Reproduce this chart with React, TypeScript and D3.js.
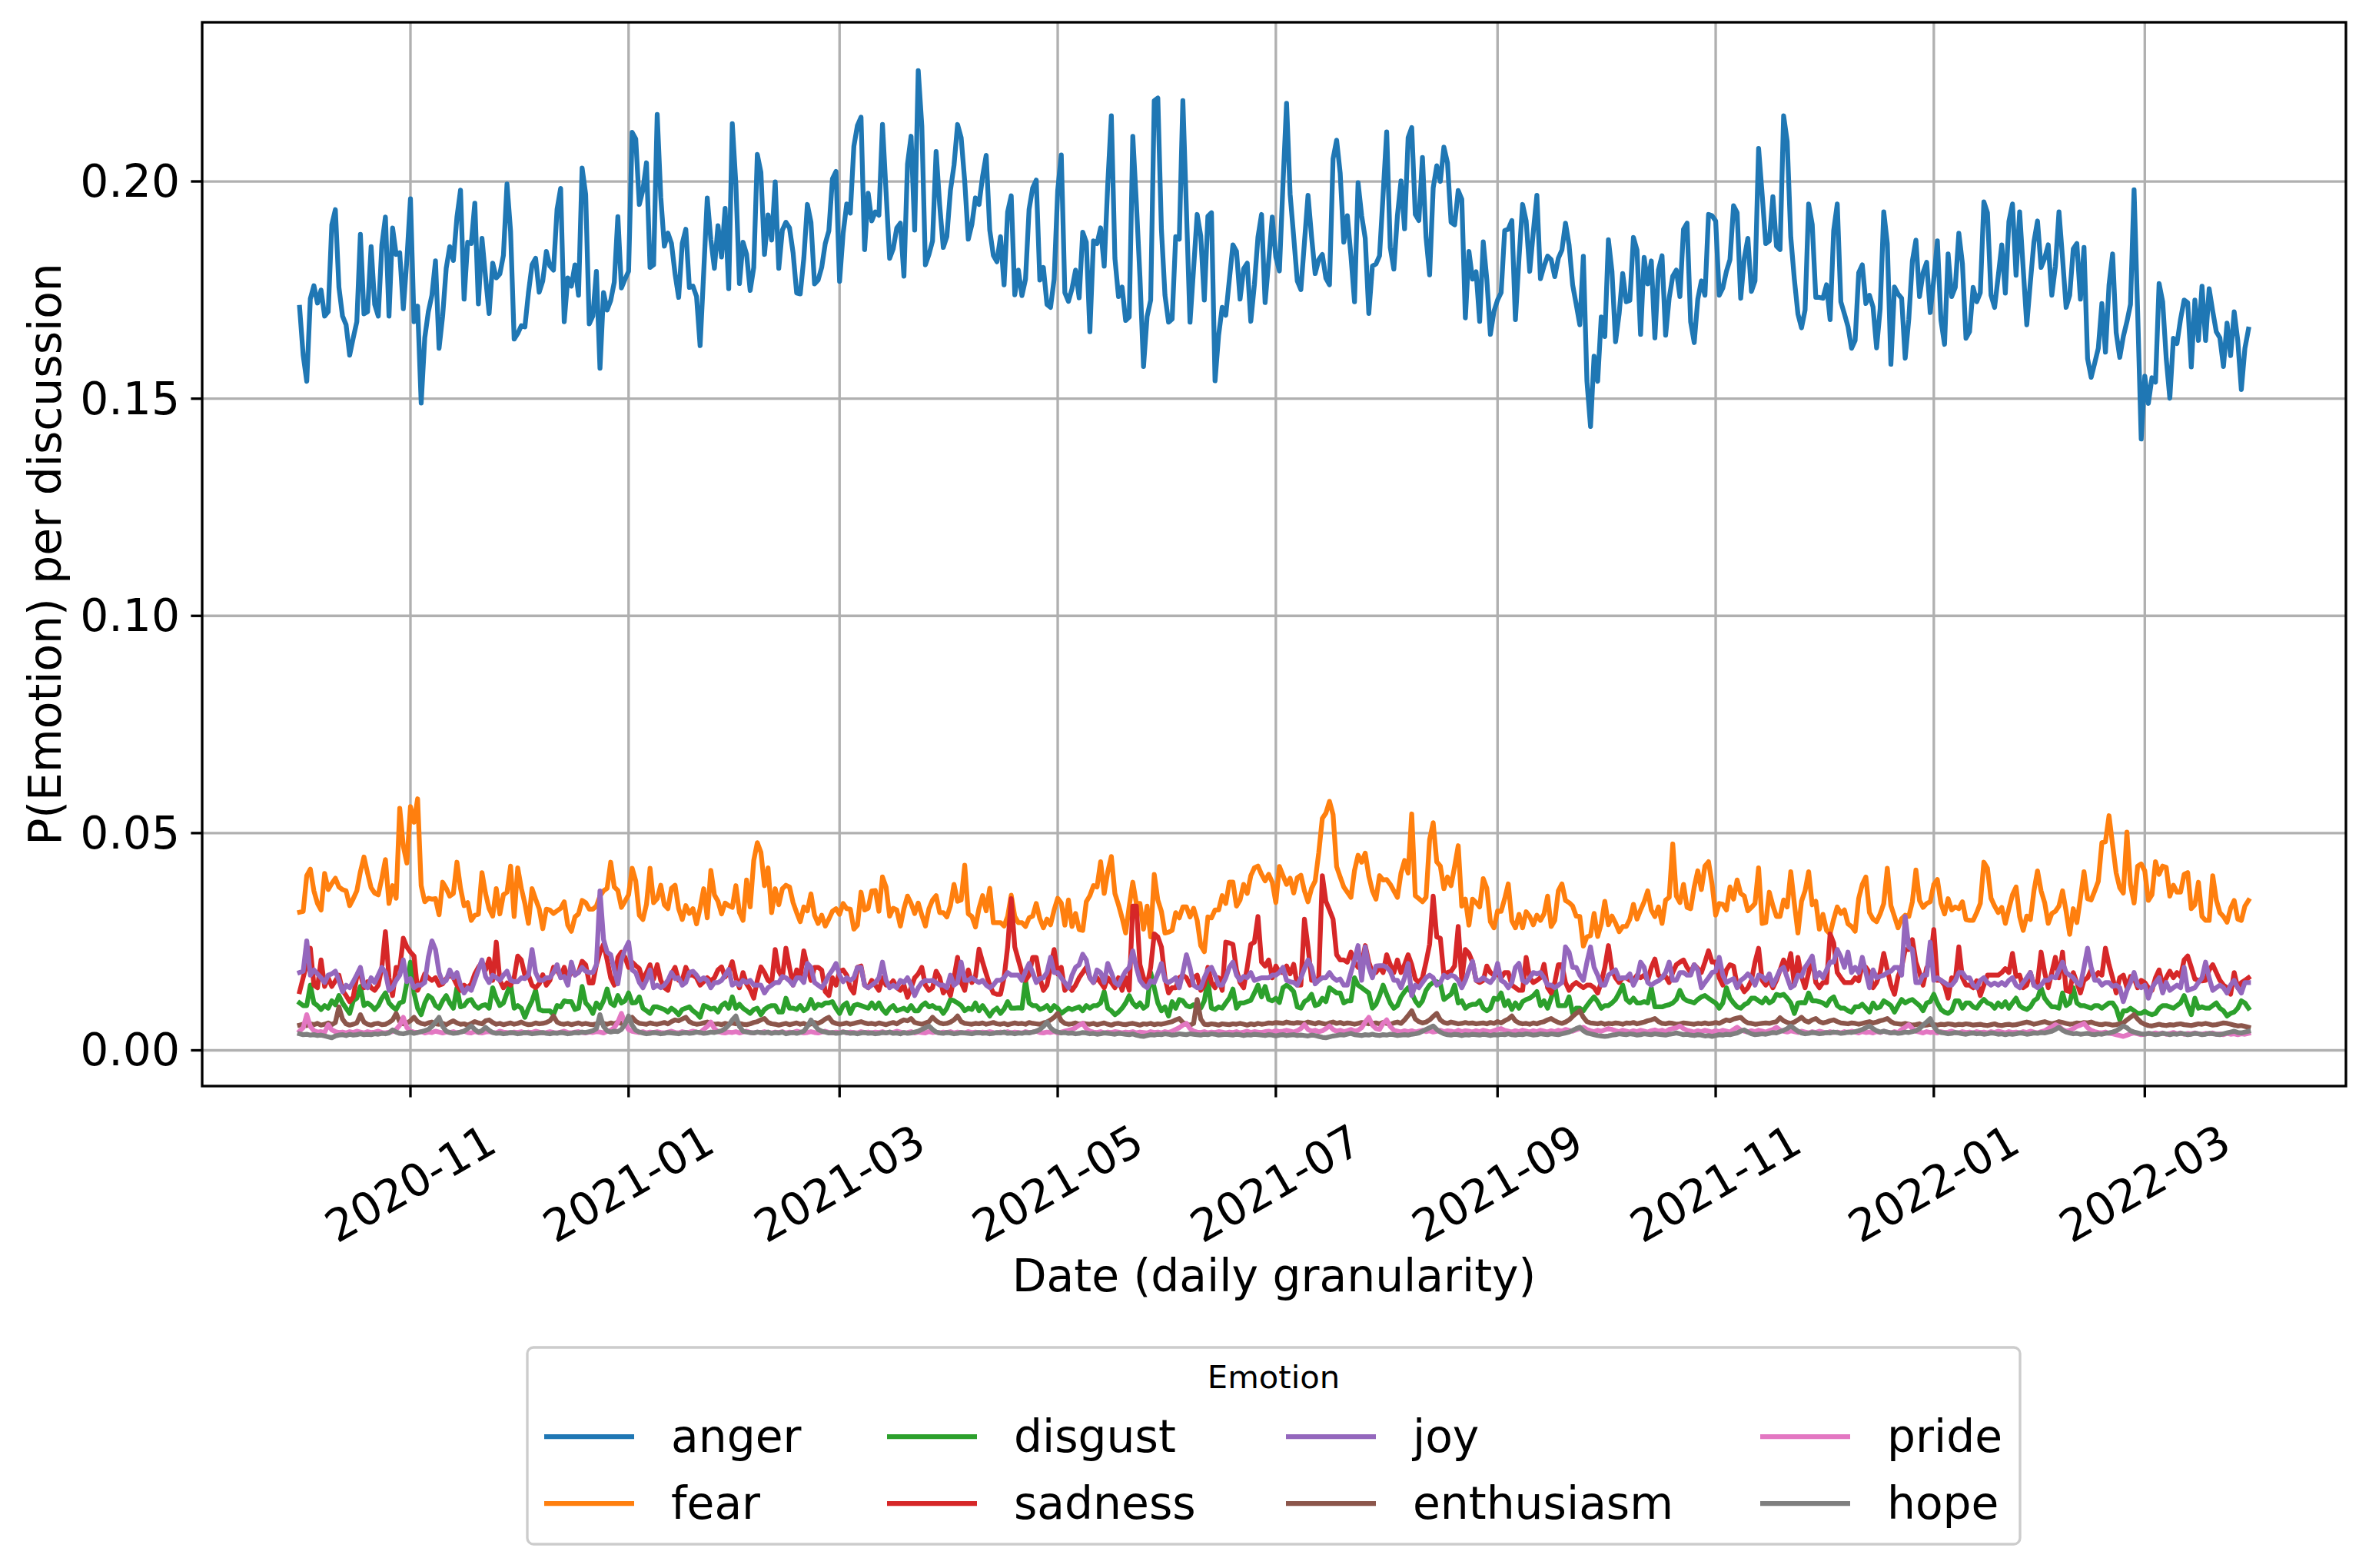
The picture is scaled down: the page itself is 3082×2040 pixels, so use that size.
import * as d3 from 'd3';

// Daily P(emotion) per discussion, in units of 1e-4, one value per day from 2020-10-01
const anger = [
  1710,1600,1540,1730,1760,1720,1750,1690,1700,1900,
  1935,1756,1690,1670,1600,1640,1677,1878,1695,1700,
  1850,1717,1690,1854,1918,1690,1893,1832,1836,1707,
  1820,1960,1677,1713,1490,1640,1700,1738,1817,1616,
  1690,1800,1850,1818,1918,1980,1729,1860,1857,1950,
  1718,1869,1780,1696,1812,1778,1787,1830,1994,1885,
  1637,1650,1668,1665,1744,1808,1823,1745,1771,1839,
  1805,1796,1936,1984,1677,1778,1759,1808,1738,2031,
  1970,1672,1690,1793,1570,1744,1704,1726,1768,1919,
  1755,1775,1793,2113,2098,1947,1980,2043,1802,1808,
  2154,1964,1851,1881,1857,1787,1733,1857,1890,1756,
  1759,1735,1622,1790,1962,1866,1800,1898,1826,1938,
  1753,2133,1994,1765,1860,1832,1749,1802,2062,2021,
  1832,1923,1865,1999,1800,1888,1906,1893,1836,1743,
  1741,1823,1947,1906,1764,1773,1802,1857,1886,2006,
  2023,1770,1881,1948,1927,2081,2129,2148,1843,1973,
  1909,1930,1922,2131,1976,1823,1845,1893,1904,1782,
  2040,2104,1888,2255,2128,1808,1832,1863,2069,1945,
  1848,1873,1979,2037,2131,2101,2000,1867,1901,1962,
  1947,2012,2060,1888,1830,1815,1873,1762,1930,1967,
  1739,1796,1737,1775,1936,1985,2003,1773,1802,1717,
  1710,1775,1979,2061,1744,1724,1753,1796,1732,1883,
  1860,1654,1863,1857,1893,1805,1994,2151,1823,1735,
  1757,1680,1688,2104,1950,1780,1574,1689,1727,2186,
  2192,1890,1738,1676,1683,1873,1867,2186,1933,1676,
  1799,1924,1875,1727,1920,1928,1541,1646,1710,1692,
  1774,1854,1839,1729,1799,1812,1678,1762,1872,1924,
  1721,1817,1918,1826,1794,1994,2180,1970,1872,1771,
  1751,1860,1968,1872,1788,1820,1832,1777,1762,2052,
  2095,2019,1860,1921,1829,1723,1997,1921,1869,1696,
  1805,1810,1829,1970,2114,1848,1798,1921,2001,1891,
  2101,2124,1924,1910,2055,1872,1785,1985,2036,2000,
  2079,2043,1906,1900,1979,1959,1686,1839,1775,1792,
  1678,1861,1775,1648,1701,1727,1744,1887,1890,1910,
  1682,1823,1947,1909,1793,1884,1968,1776,1805,1828,
  1820,1781,1823,1842,1904,1854,1762,1717,1670,1828,
  1540,1436,1598,1540,1688,1643,1866,1793,1631,1695,
  1788,1723,1726,1871,1842,1648,1825,1764,1817,1640,
  1796,1829,1646,1732,1782,1796,1735,1890,1904,1677,
  1629,1729,1771,1738,1924,1921,1909,1738,1755,1793,
  1820,1944,1928,1731,1823,1869,1747,1771,2076,1970,
  1857,1863,1965,1851,1843,2151,2092,1872,1775,1695,
  1663,1704,1948,1901,1733,1733,1731,1762,1682,1887,
  1948,1723,1695,1666,1616,1634,1790,1808,1719,1738,
  1711,1617,1707,1930,1857,1579,1757,1741,1731,1593,
  1683,1817,1865,1735,1790,1814,1698,1775,1863,1680,
  1625,1833,1735,1756,1881,1811,1639,1654,1756,1723,
  1744,1953,1928,1738,1710,1781,1854,1743,1908,1948,
  1784,1930,1799,1670,1768,1861,1909,1802,1823,1854,
  1738,1805,1930,1823,1710,1738,1845,1857,1729,1848,
  1592,1549,1582,1616,1719,1607,1762,1833,1652,1595,
  1643,1677,1717,1981,1701,1407,1552,1489,1548,1538,
  1765,1723,1592,1501,1639,1627,1683,1727,1721,1573,
  1727,1634,1759,1634,1753,1701,1654,1640,1574,1674,
  1599,1700,1634,1521,1616,1660,
];

const fear = [
  318,320,402,417,367,338,323,407,370,384,
  396,376,370,367,333,349,367,411,445,408,
  374,362,358,396,439,338,379,350,557,470,
  431,561,525,579,379,342,350,348,349,312,
  387,373,355,361,433,373,333,340,299,311,
  313,409,361,326,309,372,314,358,364,424,
  308,420,373,338,292,372,348,326,280,325,
  323,315,321,327,342,288,274,307,314,345,
  340,325,325,332,355,367,373,433,376,368,
  329,343,358,419,390,311,301,336,419,340,
  349,380,335,326,373,380,326,301,333,315,
  326,291,327,372,305,414,358,343,314,339,
  333,329,379,317,299,392,330,437,478,456,
  379,420,317,372,335,372,380,376,
  340,317,296,330,321,360,311,292,
  311,286,302,320,326,313,338,326,325,279,
  288,364,323,327,367,368,320,399,376,309,
  327,323,286,326,355,338,315,339,311,286,
  326,346,356,317,317,307,333,382,343,346,
  426,314,308,284,327,356,321,373,294,294,
  294,286,308,357,308,294,294,285,305,309,
  338,303,282,302,289,323,350,339,288,346,
  285,315,278,276,342,356,379,376,434,361,
  411,446,361,335,305,270,332,387,338,338,
  279,332,261,405,346,320,270,272,276,317,
  305,330,330,307,327,299,241,227,307,305,
  323,323,356,338,387,387,332,346,382,361,
  402,420,424,405,390,405,387,340,423,
  402,382,396,362,397,403,367,
  342,373,390,455,534,546,573,543,423,399,
  376,364,352,414,449,433,454,401,367,348,
  402,392,393,382,367,352,408,437,408,544,
  356,349,342,352,485,524,434,424,372,399,
  379,423,471,332,348,288,348,340,330,395,
  373,296,282,321,320,349,383,298,282,313,
  282,319,308,289,311,299,314,355,285,299,
  367,383,345,340,332,309,308,240,261,264,
  315,262,291,343,289,309,293,273,285,285,
  302,336,302,323,342,367,323,308,330,292,
  346,352,475,355,340,382,329,326,376,413,
  370,424,434,382,311,338,336,323,376,348,
  392,361,355,321,329,338,420,292,
  294,364,333,308,308,346,330,411,338,270,
  343,367,411,335,343,279,313,276,268,302,
  330,315,323,291,285,274,350,382,399,317,
  302,296,314,338,419,333,308,282,303,311,
  308,342,415,345,329,338,342,382,393,338,
  314,349,323,330,326,342,301,299,299,317,
  338,433,419,350,332,317,329,292,326,358,
  376,308,276,309,301,367,413,367,340,292,
  315,320,332,367,320,267,326,294,350,411,
  349,346,367,389,478,480,540,473,408,374,
  362,502,382,339,424,429,413,345,358,434,
  405,424,421,355,380,364,364,405,409,326,
  335,387,308,299,299,402,346,317,308,295,
  327,345,302,299,332,345,
];

const disgust = [
  109,103,103,150,109,103,94,103,97,114,105,
  126,109,97,85,114,120,147,103,109,103,
  94,103,120,132,109,100,94,109,112,156,203,
  132,97,82,109,126,120,103,97,114,126,
  109,97,144,100,103,114,117,103,97,103,105,
  97,144,120,103,109,132,153,97,103,97,
  76,97,114,138,94,91,91,91,82,103,100,
  114,112,112,94,97,147,109,100,85,109,
  97,114,141,109,103,126,109,114,132,109,110,
  123,97,91,85,100,100,97,94,88,97,
  91,82,94,97,100,91,85,76,103,100,95,
  97,88,103,109,97,123,97,106,97,91,
  85,94,97,82,94,100,103,103,88,88,120,
  97,
  97,94,103,91,97,117,97,106,
  103,109,109,112,97,85,103,109,85,103,
  106,103,100,97,109,97,109,94,85,97,
  103,91,94,97,91,103,91,91,103,109,100,
  103,97,97,85,97,117,114,109,103,91,
  97,94,109,91,103,91,79,91,97,85,95,
  112,97,97,98,97,161,109,103,103,94,
  97,103,91,103,97,85,91,97,94,97,100,
  91,103,97,103,103,109,135,97,91,82,
  88,97,109,126,109,100,109,97,103,179,144,
  109,91,100,79,112,97,117,114,103,100,105,
  97,97,114,161,97,94,100,97,109,120,
  141,97,109,109,112,115,132,150,123,147,117,
  114,120,110,
  144,150,144,135,100,97,112,
  117,129,103,106,120,112,144,138,132,132,
  109,114,114,167,150,144,138,132,97,106,
  126,150,129,109,97,103,123,135,144,132,
  114,103,114,138,150,156,158,153,117,123,
  129,150,109,114,97,103,106,106,114,97,
  91,97,120,117,132,103,114,94,109,97,
  112,117,120,126,135,103,114,97,120,150,
  103,103,103,123,85,97,97,91,103,114,
  123,112,97,103,103,109,117,132,150,117,110,
  120,109,109,112,109,144,100,100,100,103,105,
  109,117,138,120,114,112,109,117,123,126,
  120,114,109,97,109,144,120,109,100,97,105,
  109,120,120,114,109,
  120,109,114,129,126,129,120,109,85,109,110,
  109,132,114,114,112,109,103,117,123,103,
  97,97,91,88,100,100,106,97,88,109,97,
  100,114,109,103,88,103,117,109,114,117,110,
  103,91,109,112,129,109,94,88,85,91,
  114,114,97,109,109,100,97,109,117,109,106,
  97,109,100,112,97,109,120,103,97,94,100,
  114,120,144,120,109,100,100,97,132,103,
  109,144,109,103,103,100,97,103,103,97,103,
  109,109,97,70,91,91,97,91,85,85,90,
  85,82,85,97,103,103,100,97,103,109,
  126,103,82,120,97,100,97,97,103,109,97,
  91,79,85,88,97,114,109,97,
];

const sadness = [
  135,167,200,235,150,144,208,147,167,147,160,
  173,138,126,112,123,170,176,144,158,144,
  138,150,191,273,167,126,191,188,258,238,
  226,217,138,155,176,167,161,167,150,153,165,
  173,167,150,138,150,144,153,176,191,203,185,
  210,161,249,161,144,155,150,167,217,208,
  173,173,150,144,153,174,150,161,191,185,170,
  191,167,179,176,179,205,197,155,155,197,
  226,244,208,167,150,214,226,214,191,203,195,
  188,161,179,197,164,197,161,144,138,176,
  191,161,161,191,173,173,167,150,158,167,160,
  167,185,192,169,181,204,167,144,179,153,140,
  120,161,192,179,161,155,232,182,167,235,191,
  150,185,167,229,191,161,191,191,
  185,135,126,167,150,182,185,173,144,132,
  191,194,150,144,161,150,138,167,150,150,160,
  144,138,150,122,144,167,176,191,150,138,
  144,182,167,132,144,126,167,214,156,138,
  185,156,170,233,203,176,150,132,129,129,
  167,238,349,238,208,179,161,173,214,214,
  167,138,150,191,232,176,191,138,150,138,
  150,167,179,191,167,156,167,156,144,167,
  156,144,167,138,167,138,332,332,197,167,
  150,191,268,261,238,167,132,144,144,167,
  173,167,150,167,173,138,150,191,156,144,
  167,138,249,247,244,185,156,144,191,244,
  249,308,203,194,208,167,194,180,
  179,194,176,198,150,150,302,
  238,161,161,167,402,343,323,302,220,208,
  208,203,226,203,191,197,241,203,179,179,
  191,179,220,197,179,208,179,197,220,197,
  164,156,167,203,244,355,261,258,173,179,
  182,194,285,161,232,223,203,161,156,161,
  194,179,173,176,167,179,179,150,144,138,
  138,214,167,156,161,167,198,144,132,156,
  197,197,156,138,150,156,150,144,150,150,
  144,132,156,191,241,185,167,156,167,167,
  161,161,173,167,173,161,191,210,173,167,170,
  156,179,197,203,208,191,179,197,188,179,
  203,229,203,203,167,150,185,197,194,150,150,
  135,144,161,203,235,161,
  150,161,144,161,185,208,185,223,150,214,170,
  144,179,214,156,144,156,156,268,247,179,
  167,156,156,156,167,160,197,191,179,144,156,
  179,223,185,150,129,170,191,232,232,255,203,
  179,150,190,203,278,161,161,150,120,167,161,
  238,167,150,150,144,160,126,150,173,173,173,
  173,179,188,179,223,170,173,144,150,179,150,
  156,226,179,144,179,214,167,226,138,135,
  179,156,132,161,167,185,167,179,173,235,
  197,167,132,167,173,144,170,167,144,161,156,
  144,138,167,185,150,167,182,167,179,170,208,
  217,191,164,161,160,161,185,197,179,161,150,
  144,129,179,144,156,161,167,
];

const joy = [
  179,182,252,173,185,176,167,156,173,176,
  182,161,135,150,144,158,174,191,150,144,167,
  156,173,191,179,138,144,161,173,208,158,165,
  144,150,150,156,214,252,232,179,156,161,
  185,167,179,150,132,144,138,161,185,208,170,
  156,173,167,161,173,182,161,158,158,167,165,
  173,232,179,161,161,167,167,179,197,167,170,
  150,203,173,179,191,182,179,179,197,367,
  255,226,220,185,153,208,232,249,185,179,
  156,144,161,185,144,150,144,150,161,179,165,
  167,150,156,179,182,173,161,167,161,144,
  156,156,161,173,186,150,156,150,161,156,161,
  150,150,150,132,144,150,156,156,170,167,160,
  150,167,167,156,200,191,156,150,
  144,156,173,185,200,173,158,167,161,167,
  191,191,150,144,150,156,167,203,161,144,
  150,144,161,156,167,150,126,144,156,161,160,
  161,156,150,150,144,173,150,156,203,161,
  161,167,161,156,161,150,144,150,161,161,
  167,179,173,173,173,161,182,200,179,156,165,
  167,179,214,179,179,167,156,144,173,191,
  197,221,208,167,156,185,179,156,200,179,
  156,150,167,182,191,229,191,161,150,144,160,
  156,176,200,161,156,161,167,144,179,220,
  191,150,144,144,167,185,191,173,150,150,
  167,191,203,173,161,170,167,179,161,164,167,
  167,167,173,173,179,
  191,161,158,156,150,167,188,
  208,191,153,161,167,167,179,167,161,164,
  150,150,179,208,241,161,238,191,167,194,
  195,195,191,182,161,161,144,167,200,126,
  150,144,156,167,173,167,150,156,173,
  167,173,170,161,144,161,185,205,161,
  161,167,161,156,167,200,161,156,144,
  156,191,200,161,156,167,179,176,179,167,
  150,150,144,150,156,238,226,191,191,173,
  161,203,238,191,173,150,150,173,179,185,165,
  167,167,176,150,167,203,191,156,150,156,160,
  167,179,203,161,161,179,179,173,173,197,
  185,144,156,167,179,182,214,173,156,161,165,
  144,161,167,176,167,150,173,170,
  161,176,150,167,185,191,167,144,150,173,170,
  191,203,217,167,179,167,185,203,203,232,215,
  191,226,179,191,179,214,179,144,185,167,170,
  173,179,182,191,191,173,308,238,232,156,
  156,173,173,249,161,167,161,156,150,150,160,
  179,179,167,167,150,144,161,167,156,150,155,
  150,156,150,161,167,150,144,156,167,179,
  150,144,150,161,161,170,167,185,203,179,173,
  167,156,150,191,235,191,161,161,150,156,
  156,147,150,144,112,138,156,179,150,144,150,
  120,144,156,167,132,156,138,144,150,144,
  191,138,141,144,156,167,203,167,138,144,150,
  144,132,150,161,144,132,156,156,
];

const enthusiasm = [
  58,60,57,61,59,62,58,60,63,59, 64,100,72,61,58,60,63,82,65,60,
  58,61,62,59,60,64,70,85,66,61, 63,68,76,66,62,60,63,65,61,60,
  62,59,64,68,63,60,61,58,62,66, 63,61,68,70,64,60,62,59,61,63,
  60,62,65,61,59,60,63,61,62,64, 68,79,65,61,60,62,59,61,63,60,
  62,60,59,61,64,62,60,63,61,65, 62,66,70,76,67,62,61,60,63,61,
  60,62,64,61,66,70,68,72,76,66, 62,60,61,63,65,62,60,61,59,62,
  60,63,61,62,60,59,61,64,66,70, 73,64,61,60,58,60,62,59,61,63,
  60,62,58,61,64,62,66,72,76,65, 62,60,61,63,60,62,64,66,63,61,
  62,60,63,61,59,62,64,61,66,70, 68,73,64,62,60,63,66,76,68,63,
  61,62,65,70,79,66,62,61,60,62, 61,63,60,62,64,61,60,62,59,61,
  63,61,62,60,64,62,61,60,63,65, 70,76,85,68,62,60,61,63,60,62,
  61,60,62,59,61,63,60,58,61,62, 60,59,61,62,60,58,61,60,62,59,
  61,60,62,64,66,70,73,64,60,58, 62,117,72,60,59,61,60,58,61,60,
  59,61,60,62,60,58,61,59,62,60, 61,63,62,64,63,62,65,63,62,64,
  63,62,65,63,61,64,62,60,63,65, 62,64,61,63,62,60,62,64,63,61,
  62,63,61,64,62,60,63,65,62,70, 80,91,72,66,63,65,70,78,85,70,
  64,62,65,63,61,62,64,62,63,61, 62,63,61,64,62,66,63,68,72,79,
  68,63,61,62,60,63,61,64,66,70, 73,68,64,62,65,70,78,85,91,76,
  66,63,62,61,63,60,62,61,63,62, 60,63,62,64,61,63,65,68,70,73,
  66,62,61,63,62,60,61,63,62,61, 60,62,61,63,61,62,64,62,66,70,
  68,72,74,76,68,63,62,60,61,62, 63,62,64,66,75,68,64,62,65,70,
  76,68,65,70,73,66,63,65,68,70, 66,63,62,61,63,62,60,62,64,66,
  63,65,68,70,73,66,62,61,60,62, 60,58,59,61,57,58,60,59,58,60,
  59,61,60,58,60,59,61,60,58,59, 60,58,57,59,61,58,57,59,60,58,
  59,61,63,65,63,60,62,64,66,63, 61,63,66,64,62,60,61,63,62,64,
  63,65,62,60,59,61,60,58,59,61, 63,70,76,82,72,64,60,57,56,58,
  60,58,57,59,58,60,61,59,58,57, 59,61,60,62,60,58,59,61,63,62,
  60,58,56,57,55,53,
];

const pride = [
  44,52,82,55,45,42,43,41,59,47, 43,41,42,40,43,41,44,42,40,43,
  41,42,44,41,40,42,43,48,58,76, 52,44,42,41,43,40,42,41,44,42,
  40,42,41,43,40,42,44,41,40,43, 41,40,42,43,41,40,44,42,41,40,
  42,41,43,40,42,41,44,42,40,41, 43,41,40,42,44,41,40,42,43,41,
  40,42,41,43,42,40,44,46,52,65, 85,62,48,44,42,41,43,40,42,41,
  43,41,40,42,44,41,40,43,41,42, 44,42,41,48,55,65,50,43,41,40,
  42,41,43,40,42,44,41,40,42,41, 43,41,40,42,41,43,40,42,41,44,
  42,40,41,43,41,40,42,44,41,40, 42,41,43,40,42,41,40,43,41,42,
  40,42,41,43,40,42,41,44,42,40, 41,43,40,42,41,40,43,41,42,40,
  42,41,43,40,42,41,40,43,41,42, 40,42,41,43,41,40,42,41,43,40,
  42,41,40,43,41,42,44,41,40,42, 41,43,40,42,44,46,48,52,58,62,
  50,44,42,41,43,40,42,41,43,42, 40,42,41,43,40,42,41,40,43,41,
  42,40,43,41,44,48,52,58,62,50, 44,42,41,43,40,42,41,43,42,40,
  42,41,43,40,42,44,41,43,42,41, 43,44,42,45,43,44,46,44,42,45,
  50,59,48,44,46,43,45,50,56,48, 44,46,43,45,48,44,46,52,65,76,
  58,50,48,62,70,55,46,44,42,45, 43,45,42,44,46,43,45,42,44,46,
  43,45,44,42,46,43,45,44,42,45, 43,46,44,42,45,48,50,46,44,42,
  45,43,46,44,42,45,43,46,44,42, 45,43,46,44,48,46,44,47,50,53,
  48,45,43,46,44,47,50,48,45,43, 46,44,42,45,43,46,44,42,45,47,
  44,46,43,48,50,52,56,50,46,44, 42,45,43,46,44,42,45,43,46,44,
  42,48,53,47,44,42,45,43,46,44, 42,45,48,53,47,44,42,45,43,41,
  44,42,40,43,41,44,42,40,43,41, 42,40,43,41,44,42,40,43,41,42,
  40,43,41,44,42,40,43,41,48,53, 59,50,44,42,40,43,41,42,40,43,
  41,42,44,41,40,43,41,42,40,43, 41,42,40,43,41,44,42,40,43,41,
  42,40,43,41,44,42,40,43,45,50, 54,59,55,48,44,46,50,55,58,62,
  52,46,43,41,40,42,39,38,36,34, 32,35,38,40,38,36,37,39,38,40,
  38,40,37,39,41,38,40,37,39,38, 40,38,37,39,38,40,37,38,36,39,
  37,38,36,38,37,39,
];

const hope = [
  38,36,37,35,36,34,35,33,31,29, 33,35,36,34,37,35,36,38,36,37,
  36,38,37,39,38,40,47,42,39,38, 40,42,39,41,43,45,48,55,65,76,
  55,44,41,39,40,42,44,50,56,48, 42,45,53,46,41,39,40,38,39,41,
  40,38,39,41,40,38,39,40,41,39, 38,40,39,41,40,38,39,41,40,42,
  41,43,45,50,82,55,45,42,44,43, 48,60,79,58,46,42,40,38,39,41,
  40,38,39,41,40,39,38,40,41,39, 40,42,41,39,40,42,41,43,45,50,
  58,70,79,55,44,42,41,40,42,41, 40,42,39,41,40,42,38,40,41,39,
  41,44,55,70,58,48,44,42,40,41, 39,40,42,41,39,40,38,40,41,39,
  40,38,39,41,40,42,39,40,38,41, 39,40,42,44,48,52,56,48,42,40,
  39,41,40,38,39,41,40,39,38,40, 41,39,40,38,39,41,40,42,39,40,
  38,40,39,41,40,42,44,48,55,65, 52,45,42,40,41,39,40,38,39,41,
  40,38,39,37,38,40,39,38,37,39, 38,37,36,38,35,33,32,34,36,35,
  37,36,38,37,35,36,38,37,36,38, 37,36,35,37,36,38,37,35,36,37,
  36,35,37,36,34,36,35,37,36,35, 34,36,35,33,35,36,34,35,36,34,
  35,34,33,35,34,32,30,29,31,33, 34,36,35,37,39,36,35,34,36,35,
  37,35,34,36,35,37,36,34,35,36, 35,37,38,40,44,48,52,56,48,42,
  38,36,35,37,36,34,36,35,37,36, 35,37,36,34,36,35,37,36,38,36,
  35,37,36,38,37,35,36,38,37,36, 38,37,36,38,40,42,46,50,53,45,
  40,38,36,34,33,32,33,35,36,38, 37,36,38,37,35,36,38,37,36,38,
  37,36,35,37,38,40,38,36,37,35, 34,36,35,33,34,32,34,36,35,37,
  36,38,40,44,47,42,38,36,37,38, 37,39,41,40,43,46,50,56,50,44,
  40,38,39,41,40,38,39,41,40,42, 41,39,40,42,41,43,45,48,52,56,
  50,45,42,44,42,40,41,39,40,42, 41,43,45,50,58,65,73,55,44,41,
  40,38,39,41,40,38,37,39,40,38, 39,37,38,40,39,37,38,36,38,37,
  38,40,39,37,38,40,39,41,40,42, 44,48,53,46,42,40,38,39,37,38,
  39,37,36,38,37,39,40,42,45,50, 56,52,45,42,40,38,37,39,38,36,
  37,39,38,36,38,37,39,38,36,37, 39,38,36,37,39,38,37,36,38,40,
  42,44,41,40,42,44,
];

const START = Date.UTC(2020, 9, 1);
const UNIT = 1e-4;

const series = [
  { name: 'anger', color: '#1f77b4', values: anger },
  { name: 'fear', color: '#ff7f0e', values: fear },
  { name: 'disgust', color: '#2ca02c', values: disgust },
  { name: 'sadness', color: '#d62728', values: sadness },
  { name: 'joy', color: '#9467bd', values: joy },
  { name: 'enthusiasm', color: '#8c564b', values: enthusiasm },
  { name: 'pride', color: '#e377c2', values: pride },
  { name: 'hope', color: '#7f7f7f', values: hope },
];

const yTicks = [0, 0.05, 0.1, 0.15, 0.2];

export default function App() {
  const W = 3082;
  const H = 2040;
  const m = { left: 263, right: 3052, top: 29, bottom: 1413 };
  const font = "'DejaVu Sans', sans-serif";
  const fs = 58.3;

  const n = d3.max(series, s => s.values.length) as number;
  const dates = d3.range(n).map(i => d3.utcDay.offset(new Date(START), i));
  const t0 = +dates[0];
  const t1 = +dates[n - 1];
  const xpad = (t1 - t0) * 0.05;
  const x = d3.scaleUtc()
    .domain([new Date(t0 - xpad), new Date(t1 + xpad)])
    .range([m.left, m.right]);

  const all = series.flatMap(s => s.values.map(v => v * UNIT));
  const lo = d3.min(all) as number;
  const hi = d3.max(all) as number;
  const ypad = (hi - lo) * 0.05;
  const y = d3.scaleLinear().domain([lo - ypad, hi + ypad]).range([m.bottom, m.top]);

  const line = d3.line<number>()
    .x((_, i) => x(dates[i]))
    .y(v => y(v * UNIT));

  const xTicks = x.ticks(d3.utcMonth.every(2) as d3.TimeInterval);
  const fmt = d3.utcFormat('%Y-%m');

  // legend layout
  const lg = { x: 686, y: 1753, w: 1942, h: 256 };
  const colX = [708, 1154, 1673, 2290];
  const rowY = [1869, 1956];

  return (
    <>
      <style>{'body{margin:0}'}</style>
      <svg width={W} height={H} style={{ display: 'block', background: '#fff' }} fontFamily={font}>
        {/* grid */}
        <g stroke="#b0b0b0" strokeWidth={3.33}>
          {xTicks.map(t => (
            <line key={+t} x1={x(t)} x2={x(t)} y1={m.top} y2={m.bottom} />
          ))}
          {yTicks.map(t => (
            <line key={t} x1={m.left} x2={m.right} y1={y(t)} y2={y(t)} />
          ))}
        </g>

        {/* series */}
        <g fill="none" strokeWidth={6.25} strokeLinejoin="round" strokeLinecap="square">
          {series.map(s => (
            <path key={s.name} d={line(s.values) || ''} stroke={s.color} />
          ))}
        </g>

        {/* frame */}
        <rect x={m.left} y={m.top} width={m.right - m.left} height={m.bottom - m.top}
          fill="none" stroke="#000" strokeWidth={3.33} />

        {/* y axis */}
        <g fontSize={fs}>
          {yTicks.map(t => (
            <g key={t}>
              <line x1={m.left - 14.6} x2={m.left} y1={y(t)} y2={y(t)} stroke="#000" strokeWidth={3.33} />
              <text x={m.left - 29} y={y(t)} textAnchor="end" dominantBaseline="central">
                {t.toFixed(2)}
              </text>
            </g>
          ))}
        </g>

        {/* x axis */}
        <g fontSize={fs}>
          {xTicks.map(t => {
            const tx = x(t);
            const ty = 1540;
            return (
              <g key={+t}>
                <line x1={tx} x2={tx} y1={m.bottom} y2={m.bottom + 14.6} stroke="#000" strokeWidth={3.33} />
                <text x={tx} y={ty} textAnchor="middle" dominantBaseline="central"
                  transform={`rotate(-30, ${tx}, ${ty})`}>
                  {fmt(t)}
                </text>
              </g>
            );
          })}
        </g>

        <text x={(m.left + m.right) / 2} y={1660} fontSize={fs} textAnchor="middle" dominantBaseline="central">
          Date (daily granularity)
        </text>
        <text x={59} y={(m.top + m.bottom) / 2} fontSize={fs} textAnchor="middle" dominantBaseline="central"
          transform={`rotate(-90, 59, ${(m.top + m.bottom) / 2})`}>
          P(Emotion) per discussion
        </text>

        {/* legend */}
        <rect x={lg.x} y={lg.y} width={lg.w} height={lg.h} rx={8} fill="#fff" fillOpacity={0.8}
          stroke="#cccccc" strokeWidth={3.33} />
        <text x={lg.x + lg.w / 2} y={1791} fontSize={41.7} textAnchor="middle" dominantBaseline="central">
          Emotion
        </text>
        {series.map((s, i) => {
          const cx = colX[Math.floor(i / 2)];
          const cy = rowY[i % 2];
          return (
            <g key={s.name}>
              <line x1={cx} x2={cx + 117} y1={cy} y2={cy} stroke={s.color} strokeWidth={6.25} />
              <text x={cx + 165} y={cy} fontSize={fs} dominantBaseline="central">{s.name}</text>
            </g>
          );
        })}
      </svg>
    </>
  );
}
